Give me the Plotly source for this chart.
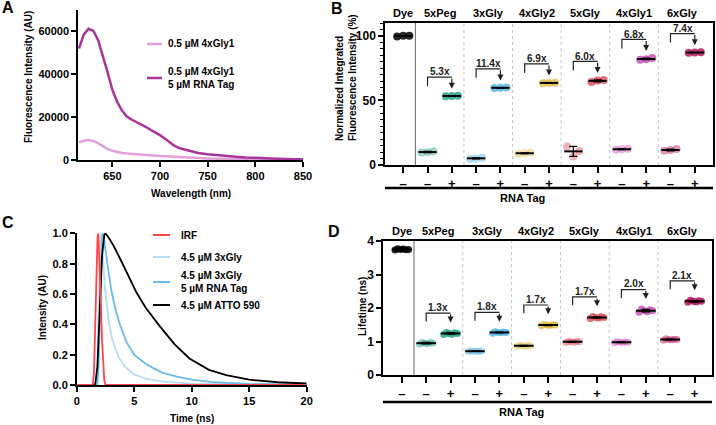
import plotly.graph_objects as go
import statistics as st

W, H = 716, 425
FONT = "Liberation Sans"


def px(x):
    return x / W


def py(y):
    return 1 - y / H


# ---------------- Panel A data ----------------
wavelength = [615, 620, 625, 630, 635, 640, 645, 650, 655, 660, 665, 670, 675, 680, 685, 690, 695, 700,
              705, 710, 715, 720, 730, 740, 750, 760, 770, 780, 790, 800, 810, 820, 830, 840, 850]
a_dye_rna = [52000, 58500, 61200, 60300, 56000, 49000, 41000, 32800, 27200, 23200, 20400, 18900, 17800,
             16700, 15500, 14100, 12900, 11600, 10000, 8200, 6700, 5600, 4300, 3300, 2700, 2200, 1800,
             1500, 1200, 950, 750, 600, 450, 350, 300]
a_dye = [8200, 9000, 9300, 8900, 7900, 6500, 5200, 4300, 3700, 3300, 3000, 2800, 2650, 2500, 2380, 2250,
         2100, 1900, 1750, 1600, 1450, 1300, 1100, 900, 750, 620, 530, 450, 380, 320, 280, 250, 210, 180, 150]
a_names = ["0.5 µM 4xGly1", "0.5 µM 4xGly1<br>5 µM RNA Tag"]

# ---------------- Panel C data ----------------
t_irf = [0, 1.4, 1.5, 1.6, 1.7, 1.8, 1.85, 1.9, 2.0, 2.1, 2.2, 2.3, 2.4, 2.5, 20]
v_irf = [0, 0, 0.08, 0.3, 0.65, 0.95, 1.0, 0.97, 0.8, 0.55, 0.3, 0.12, 0.03, 0, 0]
t_gly = [0, 1.7, 1.8, 1.9, 2.0, 2.1, 2.2, 2.3, 2.45, 2.6, 2.8, 3.1, 3.6, 4.2, 5.0, 6.0, 7.5, 10, 13, 20]
v_gly = [0, 0, 0.15, 0.5, 0.88, 1.0, 0.93, 0.82, 0.64, 0.52, 0.41, 0.3, 0.19, 0.12, 0.07, 0.042, 0.022,
         0.009, 0.004, 0.001]
t_gly_rna = [0, 1.8, 1.9, 2.0, 2.1, 2.2, 2.3, 2.45, 2.6, 2.8, 3.0, 3.4, 3.8, 4.35, 5.0, 5.4, 6.0, 6.7, 7.5,
             8.7, 10, 12, 15, 20]
v_gly_rna = [0, 0, 0.12, 0.4, 0.75, 0.97, 1.0, 0.93, 0.84, 0.73, 0.63, 0.49, 0.39, 0.28, 0.2, 0.175, 0.14,
             0.11, 0.08, 0.055, 0.035, 0.018, 0.007, 0.002]
t_atto = [0, 1.6, 1.8, 2.0, 2.2, 2.4, 2.5, 2.8, 3.2, 3.8, 4.5, 5.2, 6.0, 7.2, 8.5, 9.8, 11.5, 13, 15, 17.5, 20]
v_atto = [0, 0, 0.12, 0.5, 0.85, 0.99, 1.0, 0.97, 0.92, 0.83, 0.72, 0.61, 0.51, 0.39, 0.27, 0.175, 0.1,
          0.065, 0.035, 0.018, 0.01]
c_names = ["IRF", "4.5 µM 3xGly", "4.5 µM 3xGly<br>5 µM RNA Tag", "4.5 µM ATTO 590"]

# ---------------- Panel B / D data ----------------
groups = ["Dye", "5xPeg", "3xGly", "4xGly2", "5xGly", "4xGly1", "6xGly"]
rna_tag = ["–", "–", "+", "–", "+", "–", "+", "–", "+", "–", "+", "–", "+"]

b_reps = [
    [99.6, 100.2, 100.1],
    [9.6, 10.6, 9.9], [53.3, 53.6, 53.4],
    [4.8, 5.6, 5.1], [59.6, 60.0, 59.8],
    [8.7, 9.5, 9.1], [63.4, 63.8, 63.6],
    [14.3, 10.9, 6.5], [64.3, 65.8, 65.4],
    [11.8, 12.6, 12.2], [81.6, 82.8, 82.0],
    [11.0, 12.3, 11.6], [87.0, 87.3, 87.1],
]
b_folds = ["5.3x", "11.4x", "6.9x", "6.0x", "6.8x", "7.4x"]

d_reps = [
    [3.73, 3.77, 3.75, 3.76, 3.74, 3.75],
    [0.92, 0.97, 0.95, 0.93, 0.98, 0.95], [1.21, 1.27, 1.24, 1.22, 1.26, 1.24],
    [0.70, 0.72, 0.71, 0.71, 0.70, 0.72], [1.25, 1.29, 1.27, 1.26, 1.28, 1.27],
    [0.85, 0.89, 0.87, 0.86, 0.88, 0.87], [1.47, 1.51, 1.49, 1.48, 1.50, 1.49],
    [0.97, 1.01, 0.99, 0.98, 1.00, 0.99], [1.69, 1.75, 1.72, 1.70, 1.74, 1.72],
    [0.96, 1.00, 0.98, 0.97, 0.99, 0.98], [1.87, 1.97, 1.92, 1.89, 1.95, 1.92],
    [1.04, 1.08, 1.06, 1.05, 1.07, 1.06], [2.17, 2.23, 2.20, 2.18, 2.22, 2.20],
]
d_folds = ["1.3x", "1.8x", "1.7x", "1.7x", "2.0x", "2.1x"]

group_rgb = [(0, 0, 0), (38, 163, 139), (90, 180, 229), (227, 191, 79), (224, 82, 94), (200, 85, 184),
             (184, 25, 95)]

# ---------------- Figure ----------------
fig = go.Figure()

A_LIGHT = "#e3a0d8"
A_DARK = "#a8359c"
fig.add_trace(go.Scatter(x=wavelength, y=a_dye, mode="lines", line=dict(color=A_LIGHT, width=2.5),
                         xaxis="x", yaxis="y"))
fig.add_trace(go.Scatter(x=wavelength, y=a_dye_rna, mode="lines", line=dict(color=A_DARK, width=2.5),
                         xaxis="x", yaxis="y"))

C_COLS = ["#ff4545", "#b8ddf1", "#6cbbe8", "#000000"]
fig.add_trace(go.Scatter(x=t_gly, y=v_gly, mode="lines", line=dict(color=C_COLS[1], width=1.8),
                         xaxis="x3", yaxis="y3"))
fig.add_trace(go.Scatter(x=t_gly_rna, y=v_gly_rna, mode="lines", line=dict(color=C_COLS[2], width=1.8),
                         xaxis="x3", yaxis="y3"))
fig.add_trace(go.Scatter(x=t_atto, y=v_atto, mode="lines", line=dict(color=C_COLS[3], width=1.8),
                         xaxis="x3", yaxis="y3"))
fig.add_trace(go.Scatter(x=t_irf, y=v_irf, mode="lines", line=dict(color=C_COLS[0], width=1.8),
                         xaxis="x3", yaxis="y3"))


def cat_group(i):
    return 0 if i == 0 else (i + 1) // 2


def add_dots(reps, xa, ya, offsets, size, mean_size):
    for i, vals in enumerate(reps):
        g = cat_group(i)
        r, gg, b = group_rgb[g]
        alpha = 0.85 if (i == 0 or i % 2 == 0) else 0.45
        xs = [i + offsets[k % len(offsets)] for k in range(len(vals))]
        fig.add_trace(go.Scatter(x=xs, y=vals, mode="markers", xaxis=xa, yaxis=ya,
                                 marker=dict(size=size, color=f"rgba({r},{gg},{b},{alpha})",
                                             line=dict(width=0))))
        m = st.mean(vals)
        sd = st.stdev(vals)
        fig.add_trace(go.Scatter(x=[i], y=[m], mode="markers", xaxis=xa, yaxis=ya,
                                 marker=dict(symbol="line-ew", size=mean_size,
                                             line=dict(width=2, color="black")),
                                 error_y=dict(type="data", array=[sd], color="black", thickness=1.2, width=4)))


add_dots(b_reps, "x2", "y2", [-0.25, 0.25, 0.0], 8, 13)
add_dots(d_reps, "x4", "y4", [-0.28, -0.17, -0.06, 0.06, 0.17, 0.28], 7, 14)

shapes = []
annotations = []


def brackets(reps, folds, xr, yr, off, leg, tipoff, txtoff, ymax):
    for k, lab in enumerate(folds):
        xm = 2 * k + 1
        xp = 2 * k + 2
        top = max(reps[xp]) + off
        shapes.append(dict(type="path", xref=xr, yref=yr,
                           path=f"M {xm},{top - leg} L {xm},{top} L {xp},{top}",
                           line=dict(color="#222", width=1.2)))
        annotations.append(dict(x=xp, y=max(reps[xp]) + tipoff, ax=xp, ay=top, xref=xr, yref=yr,
                                axref=xr, ayref=yr, showarrow=True, arrowhead=2, arrowsize=1,
                                arrowwidth=1.2, arrowcolor="#222", text=""))
        annotations.append(dict(x=(xm + xp) / 2, y=top + txtoff, xref=xr, yref=yr, text=lab,
                                showarrow=False, font=dict(family=FONT, size=10, color="#222", weight="bold")))
    shapes.append(dict(type="line", xref=xr, yref=yr, x0=0.5, x1=0.5, y0=0, y1=ymax,
                       line=dict(color="#666", width=1)))
    for k in range(1, 6):
        shapes.append(dict(type="line", xref=xr, yref=yr, x0=2 * k + 0.5, x1=2 * k + 0.5, y0=0, y1=ymax,
                           line=dict(color="#c4c4c4", width=1, dash="dot")))
    for g, name in enumerate(groups):
        annotations.append(dict(x=0 if g == 0 else 2 * g - 0.5, y=1.0, xref=xr, yref=yr + " domain",
                                yanchor="bottom", yshift=2, text=name, showarrow=False,
                                font=dict(family=FONT, size=11, color="black", weight="bold")))


brackets(b_reps, b_folds, "x2", "y2", 14.5, 7, 5.5, 4, 110)
brackets(d_reps, d_folds, "x4", "y4", 0.58, 0.25, 0.3, 0.17, 4)

for (yline, ytxt, x0, x1) in [(188, 198, 385, 713), (402, 412, 383, 712)]:
    shapes.append(dict(type="line", xref="paper", yref="paper", x0=px(x0), x1=px(x1), y0=py(yline),
                       y1=py(yline), line=dict(color="black", width=2.5)))
    annotations.append(dict(x=px((x0 + x1) / 2 - 2), y=py(ytxt), xref="paper", yref="paper", text="RNA Tag",
                            showarrow=False, yanchor="middle",
                            font=dict(family=FONT, size=11, color="black", weight="bold")))

for (y, col, txt) in [(44, A_LIGHT, a_names[0]), (78, A_DARK, a_names[1])]:
    shapes.append(dict(type="line", xref="paper", yref="paper", x0=px(147), x1=px(162), y0=py(y), y1=py(y),
                       line=dict(color=col, width=2.5)))
    annotations.append(dict(x=px(166), y=py(y), xref="paper", yref="paper", text=txt, showarrow=False,
                            xanchor="left", yanchor="middle", align="left",
                            font=dict(family=FONT, size=10, color="black", weight="bold")))
for (y, col, txt) in zip([235, 257, 282, 305], C_COLS, c_names):
    shapes.append(dict(type="line", xref="paper", yref="paper", x0=px(153), x1=px(170), y0=py(y), y1=py(y),
                       line=dict(color=col, width=2)))
    annotations.append(dict(x=px(179), y=py(y), xref="paper", yref="paper", text=txt, showarrow=False,
                            xanchor="left", yanchor="middle", align="left",
                            font=dict(family=FONT, size=10, color="black", weight="bold")))

tfont = dict(family=FONT, size=10, color="black", weight="bold")
for (x, y, txt, ang) in [(29, 77, "Fluorescence Intensity (AU)", -90),
                         (191, 193, "Wavelength (nm)", 0),
                         (346, 78, "Normalized Integrated<br>Fluorescence Intensity (%)", -90),
                         (42, 308, "Intensity (AU)", -90),
                         (192, 418, "Time (ns)", 0),
                         (362, 307, "Lifetime (ns)", -90)]:
    annotations.append(dict(x=px(x), y=py(y), xref="paper", yref="paper", text=txt, showarrow=False,
                            textangle=ang, xanchor="center", yanchor="middle", align="left", font=tfont))

for (x, y, txt) in [(8, 8, "A"), (337, 9, "B"), (8, 222, "C"), (334, 231, "D")]:
    annotations.append(dict(x=px(x), y=py(y), xref="paper", yref="paper", text=txt, showarrow=False,
                            xanchor="center", yanchor="middle",
                            font=dict(family=FONT, size=16, color="black", weight="bold")))

tick_font = dict(family=FONT, size=11, color="black", weight="bold")
base = dict(showline=True, linecolor="black", linewidth=1.5, ticks="outside", ticklen=5, tickwidth=1.5,
            tickcolor="black", showgrid=False, zeroline=False, tickfont=tick_font, automargin=False)

fig.update_layout(
    width=W, height=H, margin=dict(l=0, r=0, t=0, b=0, autoexpand=False), paper_bgcolor="white",
    plot_bgcolor="white", showlegend=False, shapes=shapes, annotations=annotations,
    xaxis=dict(base, domain=[px(78), px(303)], range=[614, 850], tickvals=[650, 700, 750, 800, 850],
               anchor="y"),
    yaxis=dict(base, domain=[py(160), py(10)], range=[0, 70000], tickvals=[0, 20000, 40000, 60000],
               tickformat="d", anchor="x"),
    xaxis2=dict(base, domain=[px(385), px(713)], range=[-0.75, 12.75], tickvals=list(range(13)),
                ticktext=rna_tag, ticklen=6, mirror=True, anchor="y2",
                tickfont=dict(family=FONT, size=13, color="black", weight="bold")),
    yaxis2=dict(base, domain=[py(165), py(23)], range=[0, 110], tickvals=[0, 50, 100], mirror=True,
                anchor="x2", tickfont=dict(family=FONT, size=12, color="black", weight="bold"),
                minor=dict(dtick=5, ticklen=3, tickwidth=1, ticks="outside", tickcolor="black")),
    xaxis3=dict(base, domain=[px(76.7), px(306.7)], range=[0, 20], tickvals=[0, 5, 10, 15, 20], anchor="y3",
                layer="below traces"),
    yaxis3=dict(base, domain=[py(385), py(232.7)], range=[0, 1.005], tickvals=[0, 0.2, 0.4, 0.6, 0.8, 1.0],
                tickformat=".1f", anchor="x3"),
    xaxis4=dict(base, domain=[px(383), px(711.7)], range=[-0.77, 12.7], tickvals=list(range(13)),
                ticktext=rna_tag, ticklen=6, mirror=True, anchor="y4",
                tickfont=dict(family=FONT, size=13, color="black", weight="bold")),
    yaxis4=dict(base, domain=[py(375), py(241)], range=[0, 4], tickvals=[0, 1, 2, 3, 4], mirror=True,
                anchor="x4", tickfont=dict(family=FONT, size=12, color="black", weight="bold")),
)

fig.write_html("out.html", post_script="document.body.style.margin='0';")
